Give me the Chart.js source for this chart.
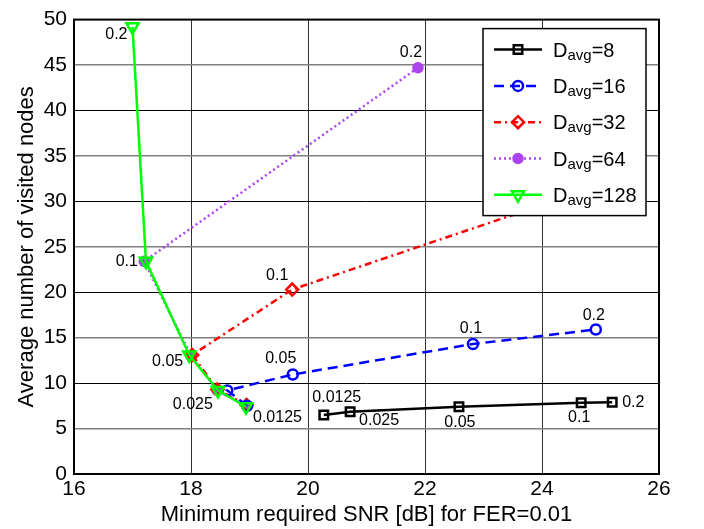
<!DOCTYPE html>
<html>
<head>
<meta charset="utf-8">
<script src="https://cdn.jsdelivr.net/npm/chart.js@4.4.1/dist/chart.umd.min.js"></script>
<style>
  html, body { margin: 0; padding: 0; background: #fff; }
  canvas { display: block; }
</style>
</head>
<body>
<canvas id="chart" width="704" height="529"></canvas>
<script>
'use strict';

// FER target of each point, in drawing order along every curve
const ferLabels = ['0.0125', '0.025', '0.05', '0.1', '0.2'];

// Minimum required SNR [dB] (x) and average visited nodes (y), per D_avg
const snrD8     = [20.27, 20.72, 22.58, 24.67, 25.20];
const nodesD8   = [6.5, 6.85, 7.4, 7.85, 7.9];
const snrD16    = [18.96, 18.62, 19.74, 22.82, 24.92];
const nodesD16  = [7.5, 9.2, 10.95, 14.3, 15.9];
const snrD32    = [18.95, 18.45, 18.02, 19.73, 24.6];
const nodesD32  = [7.6, 9.3, 13.1, 20.3, 30.9];
const snrD64    = [18.95, 18.45, 18.0, 17.2, 21.88];
const nodesD64  = [7.5, 9.2, 13.0, 23.4, 44.7];
const snrD128   = [18.94, 18.46, 17.97, 17.23, 17.0];
const nodesD128 = [7.4, 9.2, 13.1, 23.4, 49.2];

const davgValues = [8, 16, 32, 64, 128];
const xTicks = [16, 18, 20, 22, 24, 26];
const yTicks = [0, 5, 10, 15, 20, 25, 30, 35, 40, 45, 50];

const FONT = "'Liberation Sans', Arial, sans-serif";

const series = [
  { snr: snrD8,   nodes: nodesD8,   color: '#000000', dash: [],           style: 'rect',     radius: 6,   rot: 0,   filled: false, order: 5 },
  { snr: snrD16,  nodes: nodesD16,  color: '#0000ff', dash: [10, 6],      style: 'circle',   radius: 5,   rot: 0,   filled: false, order: 2 },
  { snr: snrD32,  nodes: nodesD32,  color: '#ff0000', dash: [7, 4, 2, 4], style: 'rectRot',  radius: 6,   rot: 0,   filled: false, order: 3 },
  { snr: snrD64,  nodes: nodesD64,  color: '#aa44ee', dash: [2, 3],       style: 'circle',   radius: 4.5, rot: 0,   filled: true,  order: 4 },
  { snr: snrD128, nodes: nodesD128, color: '#00ff00', dash: [],           style: 'triangle', radius: 7,   rot: 180, filled: false, order: 1 }
];

// FER text beside points: [series, point, dx, dy, align]
const ferNotes = [
  [4, 4, -5, 8, 'right'],
  [4, 3, -8, 0, 'right'],
  [4, 2, -6, 7, 'right'],
  [4, 1, -5, 14, 'right'],
  [4, 0, 7, 11, 'left'],
  [2, 3, -15, -14, 'center'],
  [1, 2, -12, -16, 'center'],
  [1, 3, -2, -15, 'center'],
  [1, 4, -2, -14, 'center'],
  [3, 4, -7, -15, 'center'],
  [0, 0, 13, -17, 'center'],
  [0, 1, 29, 9, 'center'],
  [0, 2, 1, 16, 'center'],
  [0, 3, -2, 15, 'center'],
  [0, 4, 10, 0, 'left']
];

const datasets = series.map((s, k) => ({
  label: 'Davg=' + davgValues[k],
  data: s.snr.map((x, i) => ({ x, y: s.nodes[i] })),
  showLine: true,
  borderColor: s.color,
  borderWidth: 2.5,
  borderDash: s.dash,
  pointStyle: s.style,
  pointRotation: s.rot,
  pointRadius: s.radius,
  pointBorderWidth: 2.5,
  pointBorderColor: s.color,
  pointBackgroundColor: s.filled ? s.color : 'rgba(0,0,0,0)',
  order: s.order,
  clip: false
}));

const overlay = {
  id: 'overlay',
  afterDraw(chart) {
    const ctx = chart.ctx;
    const area = chart.chartArea;
    const xs = chart.scales.x, ys = chart.scales.y;
    ctx.save();

    // box frame
    ctx.setLineDash([]);
    ctx.strokeStyle = '#000';
    ctx.lineWidth = 2;
    ctx.strokeRect(area.left, area.top, area.right - area.left, area.bottom - area.top);

    // FER labels
    ctx.fillStyle = '#000';
    ctx.font = '16px ' + FONT;
    ctx.textBaseline = 'middle';
    ferNotes.forEach(([k, i, dx, dy, align]) => {
      const s = series[k];
      ctx.textAlign = align;
      ctx.fillText(ferLabels[i], xs.getPixelForValue(s.snr[i]) + dx, ys.getPixelForValue(s.nodes[i]) + dy);
    });

    // legend box, top right inside the plot
    const lx = area.right - 176, ly = area.top + 9, lw = 163, lh = 187;
    ctx.fillStyle = '#fff';
    ctx.fillRect(lx, ly, lw, lh);
    ctx.lineWidth = 1.5;
    ctx.strokeRect(lx, ly, lw, lh);

    series.forEach((s, k) => {
      const y = ly + 21 + k * 36.3;
      ctx.strokeStyle = s.color;
      ctx.lineWidth = 2.5;
      ctx.setLineDash(s.dash);
      ctx.beginPath();
      ctx.moveTo(lx + 11, y);
      ctx.lineTo(lx + 59, y);
      ctx.stroke();
      ctx.setLineDash([]);
      ctx.fillStyle = s.filled ? s.color : 'rgba(0,0,0,0)';
      Chart.helpers.drawPoint(ctx, {
        pointStyle: s.style, rotation: s.rot, radius: s.radius, borderWidth: 2.5
      }, lx + 35, y);

      let tx = lx + 70;
      const base = y + 7;
      ctx.fillStyle = '#000';
      ctx.textAlign = 'left';
      ctx.textBaseline = 'alphabetic';
      ctx.font = '20px ' + FONT;
      ctx.fillText('D', tx, base);
      tx += ctx.measureText('D').width;
      ctx.font = '15px ' + FONT;
      ctx.fillText('avg', tx, base + 3);
      tx += ctx.measureText('avg').width;
      ctx.font = '20px ' + FONT;
      ctx.fillText('=' + davgValues[k], tx, base);
    });
    ctx.restore();
  }
};

new Chart(document.getElementById('chart'), {
  type: 'scatter',
  data: { datasets },
  options: {
    responsive: false,
    devicePixelRatio: 1,
    animation: false,
    layout: { padding: { left: 0, top: 13, right: 45, bottom: 0 } },
    plugins: { legend: { display: false }, tooltip: { enabled: false } },
    scales: {
      x: {
        type: 'linear', min: 16, max: 26,
        afterFit: sc => { sc.height = 55; },
        afterBuildTicks: sc => { sc.ticks = xTicks.map(v => ({ value: v })); },
        ticks: { color: '#000', padding: 3, font: { family: FONT, size: 21 } },
        grid: { color: '#333', lineWidth: 1, drawTicks: false },
        border: { display: false },
        title: {
          display: true, text: 'Minimum required SNR [dB] for FER=0.01',
          color: '#000', font: { family: FONT, size: 22 }, padding: { top: 0, bottom: 1 }
        }
      },
      y: {
        type: 'linear', min: 0, max: 50,
        afterFit: sc => { sc.width = 74; },
        afterBuildTicks: sc => { sc.ticks = yTicks.map(v => ({ value: v })); },
        ticks: { color: '#000', padding: 7, font: { family: FONT, size: 21 } },
        grid: {
          color: c => (c.tick && c.tick.value % 10 === 5) ? '#808080' : '#000',
          lineWidth: c => (c.tick && c.tick.value % 10 === 5) ? 1.5 : 1,
          drawTicks: false
        },
        border: { display: false },
        title: {
          display: true, text: 'Average number of visited nodes',
          color: '#000', font: { family: FONT, size: 22 }, padding: { top: 14, bottom: 0 }
        }
      }
    }
  },
  plugins: [overlay]
});
</script>
</body>
</html>
